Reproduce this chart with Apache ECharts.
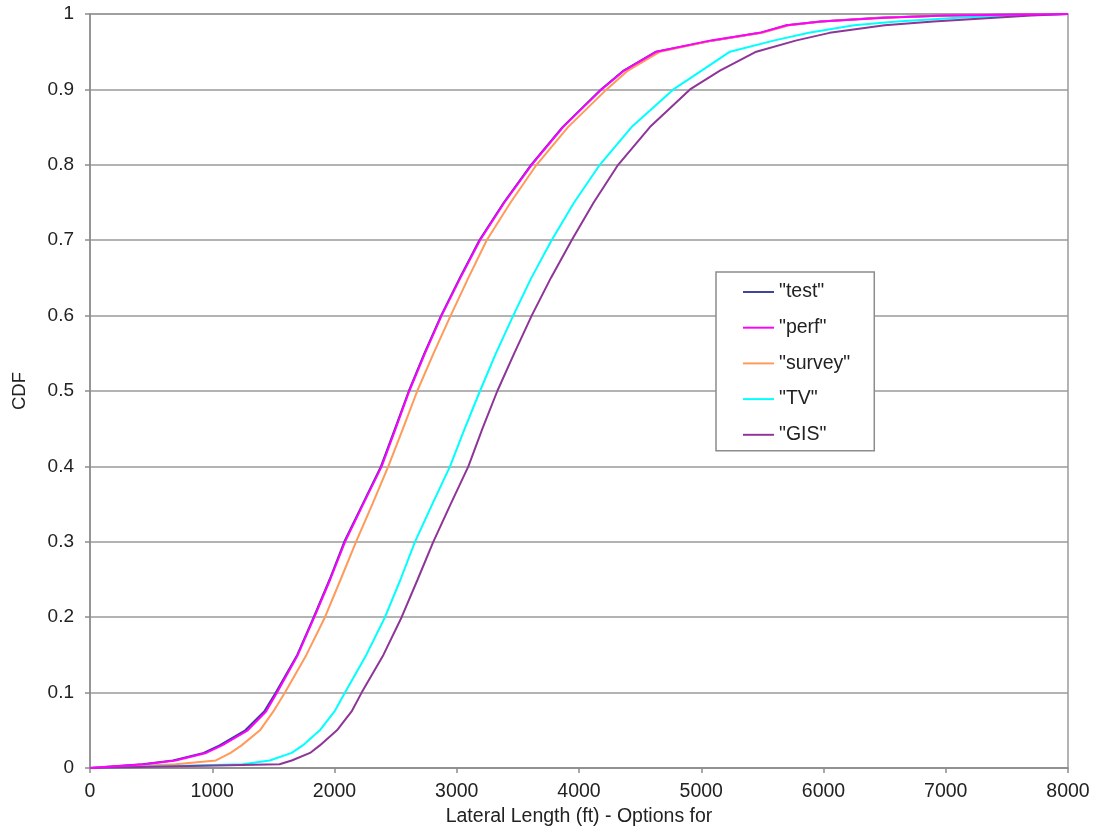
<!DOCTYPE html>
<html>
<head>
<meta charset="utf-8">
<script src="https://cdn.jsdelivr.net/npm/echarts@6/dist/echarts.min.js"></script>
<style>
html,body{margin:0;padding:0;background:#fff;}
#chart{width:1095px;height:832px;}
</style>
</head>
<body>
<div id="chart"></div>
<script>
// Shared CDF levels (y values); each series lists the lateral length (x) reached at each level
const cdfLevels = [0, 0.005, 0.01, 0.02, 0.03, 0.05, 0.075, 0.1, 0.15, 0.2, 0.25, 0.3, 0.35, 0.4, 0.45, 0.5, 0.55, 0.6, 0.65, 0.7, 0.75, 0.8, 0.85, 0.9, 0.925, 0.95, 0.965, 0.975, 0.985, 0.99, 0.995, 0.998, 1];

const testX   = [0, 430, 680, 930, 1060, 1270, 1425, 1520, 1695, 1830, 1960, 2080, 2230, 2380, 2495, 2608, 2735, 2872, 3025, 3185, 3385, 3608, 3865, 4180, 4365, 4630, 5100, 5480, 5700, 5975, 6450, 7000, 8000];
const perfX   = [0, 450, 700, 950, 1080, 1290, 1440, 1530, 1700, 1835, 1965, 2086, 2235, 2386, 2500, 2612, 2740, 2876, 3030, 3190, 3390, 3613, 3870, 4185, 4370, 4635, 5080, 5480, 5700, 5980, 6500, 7000, 8000];
const surveyX = [0, 700, 1030, 1150, 1240, 1390, 1500, 1595, 1770, 1922, 2050, 2176, 2310, 2440, 2560, 2677, 2810, 2950, 3095, 3245, 3440, 3653, 3910, 4226, 4400, 4663, 5100, 5500, 5720, 5990, 6480, 7000, 8000];
const tvX     = [0, 1250, 1470, 1650, 1740, 1880, 2000, 2086, 2260, 2413, 2540, 2658, 2800, 2945, 3065, 3190, 3320, 3462, 3610, 3776, 3960, 4170, 4430, 4772, 5003, 5235, 5600, 5880, 6250, 6600, 7100, 7500, 8000];
const gisX    = [0, 1550, 1650, 1800, 1880, 2020, 2140, 2222, 2400, 2549, 2680, 2808, 2950, 3095, 3210, 3332, 3470, 3613, 3770, 3940, 4120, 4320, 4580, 4908, 5153, 5450, 5780, 6050, 6500, 6900, 7400, 7700, 8000];

const seriesNames  = ['"test"', '"perf"', '"survey"', '"TV"', '"GIS"'];
const seriesX      = [testX, perfX, surveyX, tvX, gisX];
const seriesColors = ['#3c3c9c', '#ff00ff', '#ff9a5a', '#00ffff', '#8e3598'];
const seriesZ      = [2, 3, 2, 2, 2];

const xTicks = [0, 1000, 2000, 3000, 4000, 5000, 6000, 7000, 8000];
const yTicks = [0, 0.1, 0.2, 0.3, 0.4, 0.5, 0.6, 0.7, 0.8, 0.9, 1];

const FONT = 'Liberation Sans, Arial, sans-serif';

const chart = echarts.init(document.getElementById('chart'), null, {renderer: 'canvas'});

const series = seriesNames.map((name, i) => ({
  name: name,
  type: 'line',
  data: seriesX[i].map((x, k) => [x, cdfLevels[k]]),
  showSymbol: false,
  symbol: 'none',
  smooth: false,
  lineStyle: {color: seriesColors[i], width: 2},
  itemStyle: {color: seriesColors[i]},
  z: seriesZ[i],
  animation: false
}));

chart.setOption({
  animation: false,
  backgroundColor: '#ffffff',
  textStyle: {fontFamily: FONT},
  grid: {
    left: 90, right: 27, top: 14, bottom: 64,
    show: true, borderColor: '#9a9a9a', borderWidth: 1.5, backgroundColor: 'transparent'
  },
  legend: {
    orient: 'vertical',
    left: 716, top: 272,
    padding: [10, 24, 6, 27],
    itemGap: 15.7,
    itemWidth: 31, itemHeight: 14,
    backgroundColor: '#ffffff',
    borderColor: '#8c8c8c', borderWidth: 1.5,
    textStyle: {fontFamily: FONT, fontSize: 19.5, lineHeight: 20, color: '#222'},
    data: seriesNames.map((n, i) => ({name: n, icon: 'path://M0,6 L32,6 L32,8 L0,8 Z', itemStyle: {color: seriesColors[i]}}))
  },
  xAxis: {
    type: 'value',
    min: xTicks[0], max: xTicks[xTicks.length - 1], interval: xTicks[1] - xTicks[0],
    name: 'Lateral Length (ft) - Options for',
    nameLocation: 'middle', nameGap: 39,
    nameTextStyle: {fontFamily: FONT, fontSize: 19.5, color: '#222'},
    axisLine: {show: true, lineStyle: {color: '#8c8c8c', width: 1.5}},
    axisTick: {show: true, length: 5, lineStyle: {color: '#8c8c8c', width: 1.5}},
    axisLabel: {fontFamily: FONT, fontSize: 19.5, color: '#222', margin: 14,
      formatter: v => String(v)},
    splitLine: {show: false}
  },
  yAxis: {
    type: 'value',
    min: yTicks[0], max: yTicks[yTicks.length - 1], interval: 0.1,
    name: 'CDF',
    nameLocation: 'middle', nameGap: 61, nameRotate: 90,
    nameTextStyle: {fontFamily: FONT, fontSize: 18.5, color: '#222'},
    axisLine: {show: true, lineStyle: {color: '#8c8c8c', width: 1.5}},
    axisTick: {show: true, length: 5, lineStyle: {color: '#8c8c8c', width: 1.5}},
    axisLabel: {fontFamily: FONT, fontSize: 19, color: '#222', margin: 16,
      formatter: v => String(+v.toFixed(1))},
    splitLine: {show: true, lineStyle: {color: '#9a9a9a', width: 1.5}}
  },
  series: series
});
</script>
</body>
</html>
